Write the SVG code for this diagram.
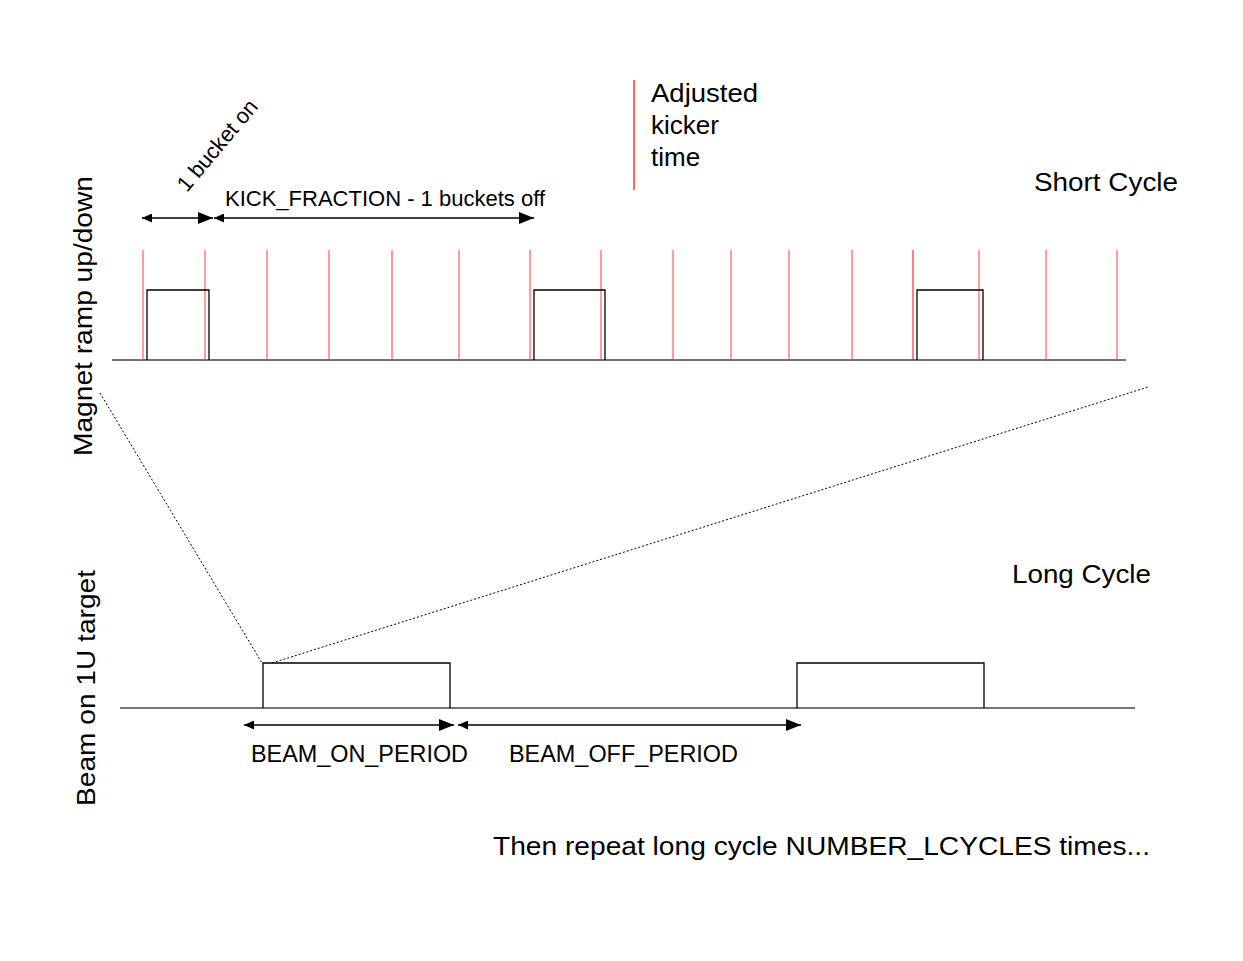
<svg xmlns="http://www.w3.org/2000/svg" width="1243" height="961" viewBox="0 0 1243 961">
<style>
text{font-family:"Liberation Sans",Arial,sans-serif;fill:#000}
.red{stroke:#ff4040;stroke-width:1.2;opacity:0.85}
.pulse{fill:none;stroke:#000;stroke-width:1.3}
.base{stroke:#444;stroke-width:1.5}
.dim{stroke:#000;stroke-width:1.5;fill:none}
.dot{stroke:#000;stroke-width:1;stroke-dasharray:2 2;fill:none}
</style>
<defs>
<marker id="big" viewBox="0 0 15 12" refX="15" refY="6" markerWidth="15" markerHeight="12" markerUnits="userSpaceOnUse" orient="auto"><path d="M0,0L15,6L0,12z" fill="#000"/></marker>
<marker id="small" viewBox="0 0 10 9" refX="0" refY="4.5" markerWidth="10" markerHeight="9" markerUnits="userSpaceOnUse" orient="auto"><path d="M10,0L0,4.5L10,9z" fill="#000"/></marker>
</defs>
<g id="short-cycle">
<line class="base" x1="112" y1="360" x2="1126" y2="360"/>
<g id="buckets">
<line class="red" x1="143" y1="250" x2="143" y2="360"/>
<line class="red" x1="205" y1="250" x2="205" y2="360"/>
<line class="red" x1="267" y1="250" x2="267" y2="360"/>
<line class="red" x1="329" y1="250" x2="329" y2="360"/>
<line class="red" x1="392" y1="250" x2="392" y2="360"/>
<line class="red" x1="459" y1="250" x2="459" y2="360"/>
<line class="red" x1="530" y1="250" x2="530" y2="360"/>
<line class="red" x1="601" y1="250" x2="601" y2="360"/>
<line class="red" x1="673" y1="250" x2="673" y2="360"/>
<line class="red" x1="731" y1="250" x2="731" y2="360"/>
<line class="red" x1="789" y1="250" x2="789" y2="360"/>
<line class="red" x1="852" y1="250" x2="852" y2="360"/>
<line class="red" x1="913" y1="250" x2="913" y2="360" style="opacity:1;stroke:#f00;stroke-width:1"/>
<line class="red" x1="979" y1="250" x2="979" y2="360"/>
<line class="red" x1="1046" y1="250" x2="1046" y2="360"/>
<line class="red" x1="1117" y1="250" x2="1117" y2="360"/>
</g>
<path class="pulse" d="M147,360V290H209V360"/>
<path class="pulse" d="M534,360V290H605V360"/>
<path class="pulse" d="M917,360V290H983V360"/>
</g>
<g id="kicker-note">
<line x1="634" y1="80" x2="634" y2="190" stroke="#f00" stroke-width="1.2"/>
<text x="651" y="102" font-size="26" textLength="107" lengthAdjust="spacingAndGlyphs">Adjusted</text>
<text x="651" y="134" font-size="26">kicker</text>
<text x="651" y="166" font-size="26">time</text>
</g>
<g id="labels">
<text x="1034" y="191" font-size="26" textLength="144" lengthAdjust="spacingAndGlyphs">Short Cycle</text>
<text x="1012" y="583" font-size="26" textLength="139" lengthAdjust="spacingAndGlyphs">Long Cycle</text>
<text transform="translate(92,456) rotate(-90)" font-size="26" textLength="280" lengthAdjust="spacingAndGlyphs">Magnet ramp up/down</text>
<text transform="translate(95,806) rotate(-90)" font-size="26" textLength="236" lengthAdjust="spacingAndGlyphs">Beam on 1U target</text>
<text transform="translate(187,193) rotate(-50)" font-size="22" textLength="112" lengthAdjust="spacingAndGlyphs">1 bucket on</text>
<text x="225" y="206" font-size="22" textLength="320" lengthAdjust="spacingAndGlyphs">KICK_FRACTION - 1 buckets off</text>
<text x="251" y="762" font-size="24" textLength="217" lengthAdjust="spacingAndGlyphs">BEAM_ON_PERIOD</text>
<text x="509" y="762" font-size="24" textLength="229" lengthAdjust="spacingAndGlyphs">BEAM_OFF_PERIOD</text>
<text x="493" y="855" font-size="26" textLength="657" lengthAdjust="spacingAndGlyphs">Then repeat long cycle NUMBER_LCYCLES times...</text>
</g>
<g id="long-cycle">
<line class="base" x1="120" y1="708" x2="1135" y2="708"/>
<path class="pulse" d="M263,708V663H450V708"/>
<path class="pulse" d="M797,708V663H984V708"/>
</g>
<g id="connectors">
<line class="dim" x1="142" y1="218" x2="213" y2="218" marker-start="url(#small)" marker-end="url(#big)"/>
<line class="dim" x1="214" y1="218" x2="534" y2="218" marker-start="url(#small)" marker-end="url(#big)"/>
<line class="dim" x1="244" y1="725" x2="454" y2="725" marker-start="url(#small)" marker-end="url(#big)"/>
<line class="dim" x1="458" y1="725" x2="801" y2="725" marker-start="url(#small)" marker-end="url(#big)"/>
<line class="dot" x1="100" y1="393" x2="262" y2="663"/>
<line class="dot" x1="272" y1="663" x2="1148" y2="387"/>
</g>
</svg>
